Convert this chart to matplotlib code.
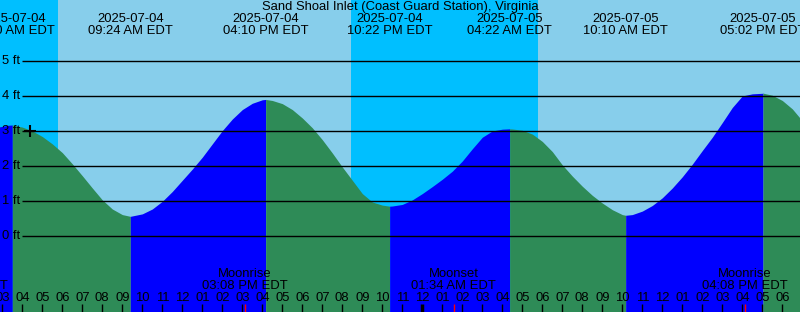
import matplotlib
matplotlib.use('Agg')
import matplotlib.pyplot as plt

plt.rcParams['font.family'] = ['Liberation Sans', 'DejaVu Sans']

# station
title = 'Sand Shoal Inlet (Coast Guard Station), Virginia'

# tide heights (hours since 2025-07-04 00:00 EDT, feet)
tide_hours = [2.8, 3.0, 3.25, 3.5,
              4.0, 4.5, 5.0, 5.5, 6.0, 6.5, 7.0, 7.5, 8.0, 8.5, 9.0, 9.4,
              10.0, 10.5, 11.0, 11.5, 12.0, 12.5, 13.0, 13.5, 14.0, 14.5,
              15.0, 15.5, 16.0, 16.167,
              16.5, 17.0, 17.5, 18.0, 18.5, 19.0, 19.5, 20.0, 20.5, 21.0,
              21.5, 22.0, 22.367,
              22.5, 23.0, 23.5, 24.0, 24.5, 25.0, 25.5, 26.0, 26.5, 27.0,
              27.5, 28.0, 28.367,
              28.5, 29.0, 29.5, 30.0, 30.5, 31.0, 31.5, 32.0, 32.5, 33.0,
              33.5, 34.0, 34.167,
              34.5, 35.0, 35.5, 36.0, 36.5, 37.0, 37.5, 38.0, 38.5, 39.0,
              39.5, 40.0, 40.5, 41.0, 41.033,
              41.5, 42.0, 42.5, 43.0]
tide_ft = [3.12, 3.14, 3.17, 3.18,
           3.12, 3.01, 2.85, 2.64, 2.39, 2.07, 1.73, 1.38, 1.04, 0.78, 0.62, 0.57,
           0.64, 0.78, 1.00, 1.28, 1.60, 1.92, 2.26, 2.64, 3.02, 3.35,
           3.62, 3.80, 3.90, 3.91,
           3.88, 3.79, 3.62, 3.38, 3.10, 2.76, 2.38, 1.98, 1.60, 1.22,
           0.98, 0.89, 0.86,
           0.865, 0.91, 1.04, 1.22, 1.42, 1.63, 1.86, 2.15, 2.50, 2.83,
           3.01, 3.06, 3.07,
           3.065, 3.03, 2.92, 2.71, 2.42, 2.04, 1.72, 1.43, 1.17, 0.95,
           0.76, 0.62, 0.60,
           0.62, 0.72, 0.88, 1.10, 1.38, 1.70, 2.06, 2.45, 2.83, 3.25,
           3.68, 4.01, 4.07, 4.085, 4.09,
           4.03, 3.88, 3.64, 3.30]

# high / low tide labels
ext_hours = [3.5, 9.4, 16.167, 22.367, 28.367, 34.167, 41.033]
ext_dates = ['2025-07-04', '2025-07-04', '2025-07-04', '2025-07-04',
             '2025-07-05', '2025-07-05', '2025-07-05']
ext_times = ['03:30 AM EDT', '09:24 AM EDT', '04:10 PM EDT', '10:22 PM EDT',
             '04:22 AM EDT', '10:10 AM EDT', '05:02 PM EDT']

# moon events
moon_hours = [1.15, 15.133, 25.567, 40.133]
moon_names = ['Moonset', 'Moonrise', 'Moonset', 'Moonrise']
moon_times = ['01:09 AM EDT', '03:08 PM EDT', '01:34 AM EDT', '04:08 PM EDT']

# night = sunset .. sunrise
night_start = [0.0, 20.43]
night_end = [5.783, 29.8]

ft_levels = [0, 1, 2, 3, 4, 5]
hour_ticks = list(range(3, 43))
now_hour = [4.385]
now_ft = [3.0]

t0, t1 = 2.885, 42.885
y0, y1 = -2.163, 6.751
fs = 9.4

fig = plt.figure(figsize=(8, 3.12), dpi=100)
ax = fig.add_axes([0, 0, 1, 1])
ax.set_xlim(t0, t1)
ax.set_ylim(y0, y1)
ax.axis('off')

# sky
ax.axvspan(t0, t1, color='#87CEEB', lw=0)
for a, b in zip(night_start, night_end):
    ax.axvspan(a, b, color='#00BFFF', lw=0)

# tide, blue when rising, green when falling
i = 0
n = len(tide_hours)
while i < n - 1:
    rising = tide_ft[i + 1] > tide_ft[i]
    j = i + 1
    while j < n - 1 and (tide_ft[j + 1] > tide_ft[j]) == rising:
        j += 1
    ax.fill_between(tide_hours[i:j + 1], tide_ft[i:j + 1], y0,
                    color='#0000FF' if rising else '#2E8B57', lw=0)
    i = j

# foot lines
ax.hlines(ft_levels, t0 + 22 / 20, t1, color='black', lw=1)
for lv in ft_levels:
    ax.text(t0 + 2 / 20, lv, f'{lv} ft', fontsize=fs, va='center', ha='left')

ax.plot(now_hour, now_ft, marker='+', color='black', ms=8, mew=1.5, ls='none')

xt = ax.get_xaxis_transform()

# header
ax.text(0.5, 1 - 7 / 312, title, transform=ax.transAxes, fontsize=fs,
        ha='center', va='center')
for h, d, s in zip(ext_hours, ext_dates, ext_times):
    ax.text(h, 1 - 19 / 312, d, transform=xt, fontsize=fs, ha='center', va='center')
    ax.text(h, 1 - 31.5 / 312, s, transform=xt, fontsize=fs, ha='center', va='center')

# moon
for h, m, s in zip(moon_hours, moon_names, moon_times):
    ax.text(h, 1 - 274 / 312, m, transform=xt, fontsize=fs, ha='center', va='center')
    ax.text(h, 1 - 285.7 / 312, s, transform=xt, fontsize=fs, ha='center', va='center')
    ax.vlines(h, 0, 8 / 312, transform=xt, color='red', lw=1)

# hour ticks
for h in hour_ticks:
    ax.text(h, 1 - 297.7 / 312, f'{(h - 1) % 12 + 1:02d}', transform=xt,
            fontsize=fs, ha='center', va='center')
    ax.vlines(h, 0, 8 / 312, transform=xt, color='black',
              lw=2.5 if h % 24 == 0 else 1)

fig.savefig('out.png', dpi=100)
